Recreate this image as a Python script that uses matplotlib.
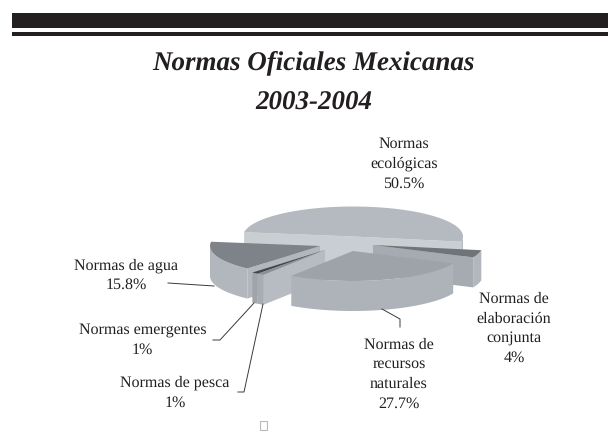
import numpy as np
import matplotlib
matplotlib.use("Agg")
import matplotlib.pyplot as plt
from matplotlib.patches import Polygon, Rectangle

# datos
categorias = ["ecologicas", "agua", "emergentes", "pesca", "recursos", "elaboracion"]
valores = [50.5, 15.8, 1, 1, 27.7, 4]
titulo = "Normas Oficiales Mexicanas"
periodo = "2003-2004"
etiquetas = ["Normas\necológicas\n50.5%", "Normas de agua\n15.8%", "Normas emergentes\n1%",
             "Normas de pesca\n1%", "Normas de\nrecursos\nnaturales\n27.7%",
             "Normas de\nelaboración\nconjunta\n4%"]

# layout en pixeles de la imagen
centros = [(353, 236.5), (320, 246), (325, 250), (325, 250), (353, 251), (373, 245)]
lab_pos = [(404, 164), (126, 275.5), (142.5, 340), (175, 393), (399, 374), (514, 328.5)]
color_top = ["#b5bac0", "#7e8389", "#45494d", "#8b9095", "#9ea3a9", "#6f7479"]
color_pared = ["#b5bac0", "#b2b7bd", "#9fa4a9", "#a8adb2", "#aeb3b9", "#b2b7bd"]
color_corte = ["#c9ced3", "#b2b7bd", "#b5bac0", "#b7bcc2", "#aeb3b9", "#a6abb1"]
orden = [0, 5, 1, 2, 3, 4]
rx, ry, prof = 110, 30, 30
inicio = -10

lineas = [
    [(168, 283), (214, 286)],
    [(254, 303), (220, 340), (213, 340)],
    [(263, 304), (244, 392), (238, 392)],
    [(382, 309), (400, 319), (400, 327)],
]

plt.rcParams["font.family"] = "Liberation Serif"
plt.rcParams["text.hinting"] = "no_hinting"
plt.rcParams["text.hinting_factor"] = 1

fig = plt.figure(figsize=(6.08, 4.42), dpi=100)
ax = fig.add_axes([0, 0, 1, 1])
ax.set_xlim(0, 608)
ax.set_ylim(442, 0)
ax.axis("off")

ax.add_patch(Rectangle((12, 13), 596, 14.5, color="#231f20", lw=0))
ax.add_patch(Rectangle((12, 32), 596, 4, color="#231f20", lw=0))

ax.text(313.5, 63, titulo, ha="center", va="center", fontsize=19.1, style="italic",
        weight="bold", color="#231f20")
ax.text(313.5, 103, periodo, ha="center", va="center", fontsize=19.1, style="italic",
        weight="bold", color="#231f20")

angulos = inicio + np.cumsum([0] + valores) * 3.6


def punto(c, ang):
    t = np.radians(ang)
    return c[0] + rx * np.cos(t), c[1] - ry * np.sin(t)


def gajo(i):
    c = centros[i]
    a0, a1 = angulos[i], angulos[i + 1]
    ts = np.linspace(a0, a1, 80)
    xs, ys = punto(c, ts)

    # caras de corte, solo si miran hacia el frente
    for ang, normal in [(a0, a0 - 90), (a1, a1 + 90)]:
        if np.sin(np.radians(normal)) < 0:
            x, y = punto(c, ang)
            cara = [c, (x, y), (x, y + prof), (c[0], c[1] + prof)]
            ax.add_patch(Polygon(cara, color=color_corte[i], lw=0))

    # pared exterior
    frente = np.sin(np.radians(ts)) <= 0
    if frente.any():
        fx, fy = xs[frente], ys[frente]
        pared = np.r_[np.c_[fx, fy], np.c_[fx, fy + prof][::-1]]
        ax.add_patch(Polygon(pared, color=color_pared[i], lw=0))

    # tapa
    ax.add_patch(Polygon(np.r_[[c], np.c_[xs, ys]], color=color_top[i], lw=0))


for i in orden:
    gajo(i)

for l in lineas:
    xy = np.array(l)
    ax.plot(xy[:, 0], xy[:, 1], color="#3a3a3a", lw=0.7)

for txt, (x, y) in zip(etiquetas, lab_pos):
    ax.text(x, y, txt, ha="center", va="center", fontsize=11.25, color="#231f20",
            linespacing=1.46)

ax.add_patch(Rectangle((260, 421), 7, 9, fill=False, ec="#b8b8b8", lw=0.8))

fig.savefig("out.png", dpi=100)
